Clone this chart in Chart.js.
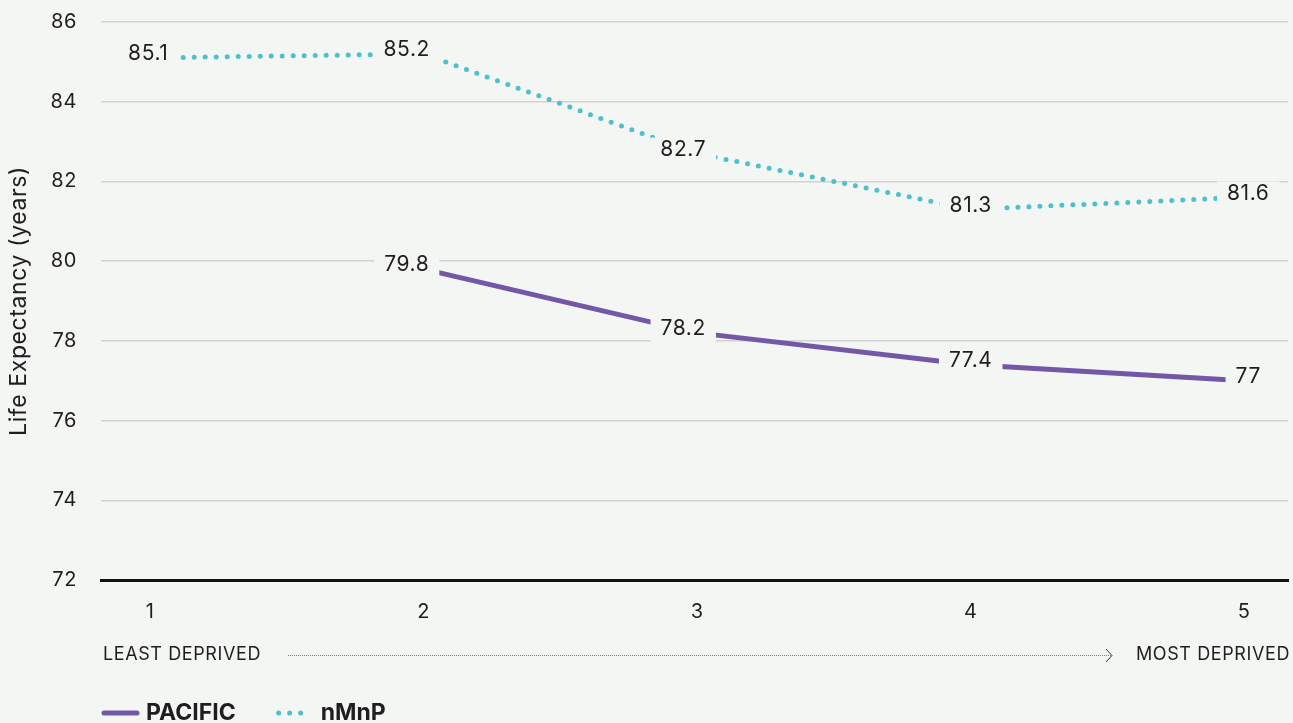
<!DOCTYPE html>
<html>
<head>
<meta charset="utf-8">
<script src="https://cdn.jsdelivr.net/npm/chart.js@4"></script>
<style>
  html, body { margin: 0; padding: 0; background: #f4f6f3; overflow: hidden; }
  #wrap { width: 1293px; height: 723px; }
</style>
</head>
<body>
<div id="wrap"><canvas id="chart"></canvas></div>
<script>
"use strict";

let quintiles = [1, 2, 3, 4, 5];
let pacific = [null, 79.8, 78.2, 77.4, 77];
let nmnp = [85.1, 85.2, 82.7, 81.3, 81.6];
let yTicks = [72, 74, 76, 78, 80, 82, 84, 86];
let seriesNames = ["PACIFIC", "nMnP"];
let axisEnds = ["LEAST DEPRIVED", "MOST DEPRIVED"];

let bg = "#f4f6f3";
let ink = "#1e1e1e";
let purple = "#7457a6";
let teal = "#4cc0cb";
let font = "Inter, 'Noto Sans', sans-serif";
// horizontal nudge of the value labels, per quintile (px)
let labelNudge = [-2, -17, -14, 0, 4];

Chart.defaults.font.family = font;
Chart.defaults.color = ink;

// a little extra tracking so Inter comes closer to the wide original face
let tracking = {
  id: "tracking",
  beforeDraw(chart) {
    chart.ctx.letterSpacing = "0.6px";
  },
};

// value labels sit on a background-coloured box, hiding the line under them
let pointLabels = {
  id: "pointLabels",
  afterDatasetsDraw(chart) {
    let ctx = chart.ctx;
    ctx.save();
    ctx.font = "21px " + font;
    ctx.textAlign = "center";
    ctx.textBaseline = "middle";
    chart.data.datasets.forEach((ds, i) => {
      let meta = chart.getDatasetMeta(i);
      meta.data.forEach((pt, j) => {
        let v = ds.data[j].y;
        if (v == null) return;
        let text = String(v);
        let cx = pt.x + labelNudge[j];
        let w = ctx.measureText(text).width + 20;
        ctx.fillStyle = bg;
        ctx.fillRect(cx - w / 2, pt.y - 16, w, 30);
        ctx.fillStyle = ink;
        ctx.fillText(text, cx, pt.y - 4);
      });
    });
    ctx.restore();
  },
};

// "least deprived ---> most deprived" row and the legend underneath
let bottomNotes = {
  id: "bottomNotes",
  afterDraw(chart) {
    let ctx = chart.ctx;
    let area = chart.chartArea;
    ctx.save();

    let y = area.bottom + 75;
    ctx.font = "18px " + font;
    ctx.fillStyle = ink;
    ctx.textBaseline = "middle";
    ctx.textAlign = "left";
    ctx.fillText(axisEnds[0], area.left + 2, y);
    let leftEnd = area.left + 2 + ctx.measureText(axisEnds[0]).width;
    ctx.textAlign = "right";
    ctx.fillText(axisEnds[1], area.right + 2, y);
    let rightStart = area.right + 2 - ctx.measureText(axisEnds[1]).width;

    let x0 = leftEnd + 27;
    let tip = rightStart - 24;
    ctx.strokeStyle = "#777";
    ctx.lineWidth = 1;
    ctx.setLineDash([1, 1]);
    ctx.beginPath();
    ctx.moveTo(x0, y + 0.5);
    ctx.lineTo(tip, y + 0.5);
    ctx.stroke();
    ctx.setLineDash([]);
    ctx.strokeStyle = "#333";
    ctx.beginPath();
    ctx.moveTo(tip - 6, y - 6);
    ctx.lineTo(tip, y + 0.5);
    ctx.lineTo(tip - 6, y + 7);
    ctx.stroke();

    // legend
    let ly = area.bottom + 133;
    ctx.font = "bold 23px " + font;
    ctx.letterSpacing = "0px";
    ctx.textAlign = "left";
    let x = area.left;
    chart.data.datasets.forEach((ds) => {
      ctx.strokeStyle = ds.borderColor;
      ctx.lineWidth = 5;
      ctx.lineCap = "round";
      ctx.setLineDash(ds.borderDash || []);
      ctx.beginPath();
      ctx.moveTo(x + 3, ly);
      ctx.lineTo(x + 36, ly);
      ctx.stroke();
      ctx.setLineDash([]);
      ctx.fillStyle = ink;
      ctx.fillText(ds.label, x + 45, ly);
      x += 45 + ctx.measureText(ds.label).width + 40;
    });
    ctx.restore();
  },
};

let ctx = document.getElementById("chart").getContext("2d");
let chart = new Chart(ctx, {
  type: "line",
  data: {
    datasets: [
      {
        label: seriesNames[0],
        data: quintiles.map((q, i) => ({ x: q, y: pacific[i] })),
        borderColor: purple,
        backgroundColor: purple,
        borderWidth: 5,
        pointRadius: 0,
        tension: 0,
      },
      {
        label: seriesNames[1],
        data: quintiles.map((q, i) => ({ x: q, y: nmnp[i] })),
        borderColor: teal,
        backgroundColor: teal,
        borderWidth: 5,
        borderDash: [0, 11],
        borderCapStyle: "round",
        pointRadius: 0,
        tension: 0,
      },
    ],
  },
  options: {
    responsive: true,
    maintainAspectRatio: false,
    animation: false,
    layout: { padding: { top: 0, right: 5, bottom: 99, left: 4 } },
    plugins: {
      legend: { display: false },
      tooltip: { enabled: false },
    },
    scales: {
      x: {
        type: "linear",
        min: 0.82,
        max: 5.16,
        afterBuildTicks: (axis) => {
          axis.ticks = quintiles.map((v) => ({ value: v }));
        },
        afterFit: (axis) => {
          axis.height = 44;
        },
        grid: { display: false, drawTicks: false },
        border: { display: true, color: "#111", width: 3 },
        ticks: { font: { size: 20 }, color: ink, padding: 20 },
      },
      y: {
        min: 72,
        max: 86,
        afterBuildTicks: (axis) => {
          axis.ticks = yTicks.map((v) => ({ value: v }));
        },
        afterFit: (axis) => {
          axis.width = 97;
          axis.paddingTop = 22;
          axis.paddingBottom = 12;
        },
        grid: { color: "#d2d2d2", lineWidth: 1.5, drawTicks: false },
        border: { display: false },
        ticks: { font: { size: 20 }, color: ink, padding: 24 },
        title: {
          display: true,
          text: "Life Expectancy (years)",
          font: { size: 23 },
          color: ink,
          padding: 1,
        },
      },
    },
  },
  plugins: [tracking, pointLabels, bottomNotes],
});
</script>
</body>
</html>
